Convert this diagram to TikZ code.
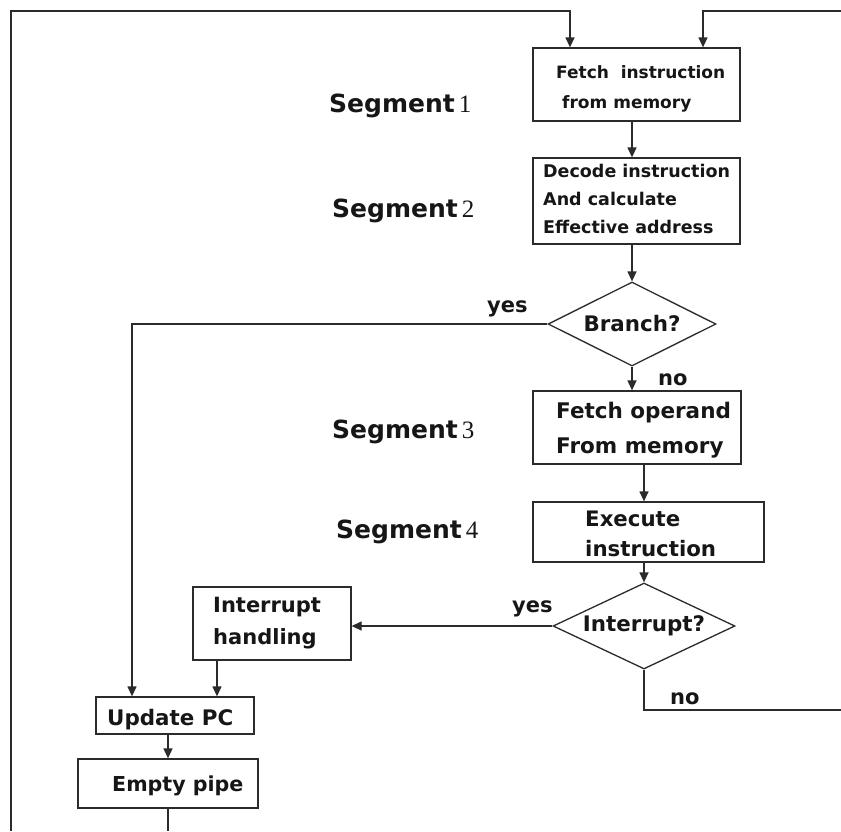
\documentclass[tikz,border=0pt]{standalone}
\usepackage{fontspec}
\setmainfont{DejaVu Sans}
\newfontfamily\segdigit{Liberation Serif}
\usetikzlibrary{shapes.geometric,arrows.meta}
\definecolor{ink}{HTML}{161616}
\definecolor{ln}{HTML}{2B2B2B}
\begin{document}
\begin{tikzpicture}[x=1pt,y=-1pt,
  box/.style={draw=ln, line width=1.3pt, rectangle, inner sep=0pt},
  decision/.style={draw=ln, line width=1.3pt, diamond, inner sep=0pt, text=ink,
    font=\bfseries\fontsize{21.4}{24}\selectfont},
  txt/.style={inner sep=0pt, align=left, anchor=north west, text=ink},
  lbl/.style={inner sep=0pt, anchor=base west, text=ink,
    font=\bfseries\fontsize{21}{24}\selectfont},
  seglbl/.style={inner sep=0pt, anchor=base west, text=ink,
    font=\bfseries\fontsize{25}{28}\selectfont},
  flow/.style={draw=ln, line width=1.3pt, -{Triangle[length=10pt,width=9pt]}},
  wire/.style={draw=ln, line width=1.3pt},
]
\useasboundingbox (0,0) rectangle (841,831);
\fill[white] (0,0) rectangle (841,831);

% outer loop end points
\coordinate (lb) at (11,831);
\coordinate (tl) at (11,11);
\coordinate (tr) at (841,11);
\coordinate (nr) at (841,710);

% process boxes
\node[box, minimum width=207pt, minimum height=73pt] (fetch)     at (636.5,84.5) {};
\node[box, minimum width=207pt, minimum height=86pt] (decode)    at (636.5,201) {};
\node[box, minimum width=208pt, minimum height=73pt] (operand)   at (637,427.5) {};
\node[box, minimum width=231pt, minimum height=60pt] (exec)      at (648.5,532) {};
\node[box, minimum width=158pt, minimum height=73pt] (handling)  at (272,623.5) {};
\node[box, minimum width=158pt, minimum height=37pt] (updatepc)  at (175,715.5) {};
\node[box, minimum width=180pt, minimum height=49pt] (emptypipe) at (168,783.5) {};

% decisions
\node[decision, shape aspect=2, minimum width=168pt, minimum height=84pt] (branch) at (632,324) {Branch?};
\node[decision, shape aspect=2.1, minimum width=182pt, minimum height=86pt] (intr) at (644,626) {Interrupt?};

% box texts
\node[txt, font=\bfseries\fontsize{17}{30}\selectfont] (fetch-t) at (556,65.1)
  {Fetch~ instruction\\\hspace*{6pt}from memory};
\node[txt, font=\bfseries\fontsize{17.5}{28}\selectfont] (decode-t) at (543,163.7)
  {Decode instruction\\And calculate\\Effective address};
\node[txt, font=\bfseries\fontsize{21.5}{35}\selectfont] (operand-t) at (556,402)
  {Fetch operand\\From memory};
\node[txt, font=\bfseries\fontsize{21.3}{30}\selectfont] (exec-t) at (585,510.8)
  {Execute\\instruction};
\node[txt, font=\bfseries\fontsize{21}{32}\selectfont] (handling-t) at (213,597)
  {Interrupt\\handling};
\node[txt, font=\bfseries\fontsize{21.4}{24}\selectfont] (updatepc-t) at (107,708.7)
  {Update PC};
\node[txt, font=\bfseries\fontsize{20.6}{24}\selectfont] (emptypipe-t) at (112,776)
  {Empty pipe};

% segment labels
\node[seglbl] (seg1) at (329,112) {Segment\hspace{4pt}{\segdigit\mdseries 1}};
\node[seglbl] (seg2) at (332,217) {Segment\hspace{4pt}{\segdigit\mdseries 2}};
\node[seglbl] (seg3) at (332,438) {Segment\hspace{4pt}{\segdigit\mdseries 3}};
\node[seglbl] (seg4) at (336,538) {Segment\hspace{4pt}{\segdigit\mdseries 4}};

% branch labels
\node[lbl] (byes) at (487,312) {yes};
\node[lbl] (bno)  at (658,385) {no};
\node[lbl] (iyes) at (512,612) {yes};
\node[lbl] (ino)  at (670,704) {no};

% connectors
\draw[flow] (lb) -- (tl) -| ([xshift=-66.5pt]fetch.north);
\draw[flow] (tr) -| ([xshift=66.5pt]fetch.north);
\draw[flow] (fetch.south -| branch.north) -- (decode.north -| branch.north);
\draw[flow] (decode.south -| branch.north) -- (branch.north);
\draw[flow] (branch.south) -- (operand.north -| branch.south);
\draw[flow] (operand.south -| intr.north) -- (exec.north -| intr.north);
\draw[flow] (exec.south -| intr.north) -- (intr.north);
\draw[flow] (intr.west) -- (intr.west -| handling.east);
\draw[flow] (branch.west) -| ([xshift=-43pt]updatepc.north);
\draw[flow] ([xshift=-55pt]handling.south) -- ([xshift=-55pt]handling.south |- updatepc.north);
\draw[flow] (updatepc.south -| emptypipe.north) -- (emptypipe.north);
\draw[wire] (emptypipe.south) -- (emptypipe.south |- lb);
\draw[wire] (intr.south) |- (nr);
\end{tikzpicture}
\end{document}
